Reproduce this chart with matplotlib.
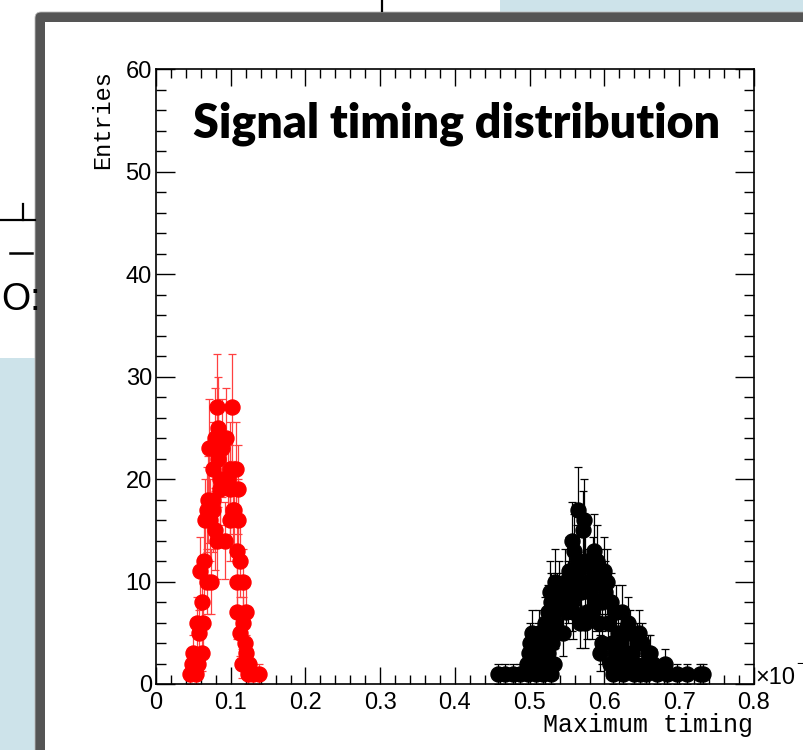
import numpy as np
import matplotlib
matplotlib.use("Agg")
import matplotlib.pyplot as plt
from matplotlib.patches import Rectangle, FancyBboxPatch

# red peak: bin centre / entries
red_x = [0.0453, 0.0476, 0.0500, 0.0540, 0.0545, 0.0564, 0.0580, 0.0587, 0.0610, 0.0612,
         0.0630, 0.0640, 0.0650, 0.0676, 0.0680, 0.0700, 0.0703, 0.0720, 0.0740, 0.0757,
         0.0760, 0.0763, 0.0790, 0.0793, 0.0810, 0.0813, 0.0830, 0.0833, 0.0850, 0.0853,
         0.0880, 0.0920, 0.0940, 0.0960, 0.0987, 0.0990, 0.0993, 0.1020, 0.1030, 0.1050,
         0.1070, 0.1077, 0.1080, 0.1083, 0.1097, 0.1100, 0.1120, 0.1130, 0.1157, 0.1160,
         0.1163, 0.1190, 0.1207, 0.1210, 0.1230, 0.1250, 0.1300, 0.1380]
red_y = [1, 2, 3, 1, 6, 2, 5, 11, 3, 8,
         6, 12, 16, 10, 17, 18, 23, 16, 10, 17,
         18, 21, 15, 24, 14, 27, 22, 25, 19, 20,
         23, 14, 24, 20, 16, 19, 21, 27, 17, 17,
         21, 7, 10, 13, 16, 19, 12, 5, 2, 6,
         10, 4, 3, 7, 1, 2, 1, 1]

# black peak
blk_x = [0.458, 0.467, 0.478, 0.487, 0.498, 0.509, 0.518, 0.529, 0.612, 0.625, 0.639, 0.648, 0.656, 0.670, 0.683, 0.697, 0.710, 0.728, 0.732,
         0.496, 0.505, 0.514, 0.532, 0.607, 0.616, 0.627, 0.641, 0.654, 0.665, 0.681,
         0.499, 0.506, 0.516, 0.525, 0.594, 0.614, 0.630, 0.637, 0.658, 0.661,
         0.501, 0.511, 0.523, 0.530, 0.597, 0.610, 0.621, 0.643, 0.650,
         0.503, 0.513, 0.526, 0.545, 0.618, 0.634, 0.646,
         0.521, 0.534, 0.567, 0.574, 0.592, 0.605, 0.632,
         0.524, 0.532, 0.549, 0.558, 0.576, 0.583, 0.616, 0.623,
         0.528, 0.537, 0.543, 0.556, 0.588, 0.596, 0.609,
         0.527, 0.539, 0.551, 0.569, 0.581, 0.601,
         0.534, 0.547, 0.560, 0.578, 0.594, 0.603,
         0.552, 0.565, 0.585, 0.599,
         0.563, 0.574, 0.590,
         0.559, 0.586,
         0.556, 0.571, 0.573, 0.565]
blk_y = [1] * 19 + [2] * 11 + [3] * 10 + [4] * 9 + [5] * 7 + [6] * 7 + [7] * 8 + [8] * 7 + [9] * 6 + [10] * 6 + \
        [11] * 4 + [12] * 3 + [13] * 2 + [14, 15, 16, 17]

xticks = [0, 0.1, 0.2, 0.3, 0.4, 0.5, 0.6, 0.7, 0.8]
xlabels = ["0", "0.1", "0.2", "0.3", "0.4", "0.5", "0.6", "0.7", "0.8"]
yticks = [0, 10, 20, 30, 40, 50, 60]

W, H = 804, 750
fig = plt.figure(figsize=(W / 100, H / 100), dpi=100)
fig.patch.set_facecolor("white")

# background in pixel coordinates (y down)
bg = fig.add_axes([0, 0, 1, 1])
bg.set_xlim(0, W)
bg.set_ylim(H, 0)
bg.axis("off")

blue = "#cde3ea"
bg.add_patch(Rectangle((500, 0), 310, 11.5, color=blue, lw=0))
bg.add_patch(Rectangle((0, 358), 35, 400, color=blue, lw=0))
# bits of the window behind
bg.plot([382, 382], [0, 11], color="black", lw=1.6)
bg.plot([0, 35], [220, 220], color="black", lw=1.6)
bg.plot([23, 23], [204, 220], color="black", lw=1.6)
bg.plot([10, 32], [253, 253], color="black", lw=1.8)
bg.text(1, 310, "O:", fontsize=27, family="Liberation Sans", va="baseline", ha="left")

# grey canvas frame
bg.add_patch(FancyBboxPatch((35, 12), 800, 760, boxstyle="round,pad=0,rounding_size=6",
                            fc="#555555", ec="#bbbbbb", lw=0.6))
bg.add_patch(Rectangle((45, 22), 800, 760, color="white", lw=0))

# titles and axis labels
bg.text(193, 138, "Signal timing distribution", fontsize=33.5, family="Lato", fontweight="heavy",
        ha="left", va="baseline")
bg.text(103, 70, "Entries", fontsize=17, family="Liberation Mono", rotation=90, ha="center", va="top")
bg.text(753, 732, "Maximum timing", fontsize=18, family="Liberation Mono", ha="right", va="baseline")
bg.text(755, 684, "\u00d710", fontsize=17, family="Liberation Sans", ha="left", va="baseline")
bg.text(796, 668, "\u2212", fontsize=11, family="Liberation Sans", ha="left", va="baseline")

# main pad
ax = fig.add_axes([156 / W, 1 - 684 / H, 598 / W, 615 / H])
ax.patch.set_visible(False)

ax.errorbar(red_x, red_y, yerr=np.sqrt(red_y), fmt="o", ms=10.8, color="red", mec="red",
            ecolor=(1, 0.25, 0.25), elinewidth=0.9, capsize=3, capthick=0.9)
ax.errorbar(blk_x, blk_y, yerr=np.sqrt(blk_y), fmt="o", ms=10.8, color="black", mec="black",
            ecolor="black", elinewidth=0.9, capsize=3, capthick=0.9)

ax.set_xlim(0, 0.8)
ax.set_ylim(0, 60)
ax.set_xticks(xticks)
ax.set_xticklabels(xlabels)
ax.set_yticks(yticks)
ax.set_xticks(np.arange(0, 0.8001, 0.02), minor=True)
ax.set_yticks(np.arange(0, 60.1, 2), minor=True)

for s in ax.spines.values():
    s.set_linewidth(1.2)
ax.tick_params(which="both", direction="in", top=True, right=True, width=1.0, colors="black")
ax.tick_params(axis="x", which="major", length=12.2, pad=5.5, labelsize=17)
ax.tick_params(axis="x", which="minor", length=6.5)
ax.tick_params(axis="y", which="major", length=13.7, pad=3, labelsize=17)
ax.tick_params(axis="y", which="minor", length=7.2)
for lab in ax.get_xticklabels() + ax.get_yticklabels():
    lab.set_family("Liberation Sans")

fig.savefig("out.png", dpi=100)
